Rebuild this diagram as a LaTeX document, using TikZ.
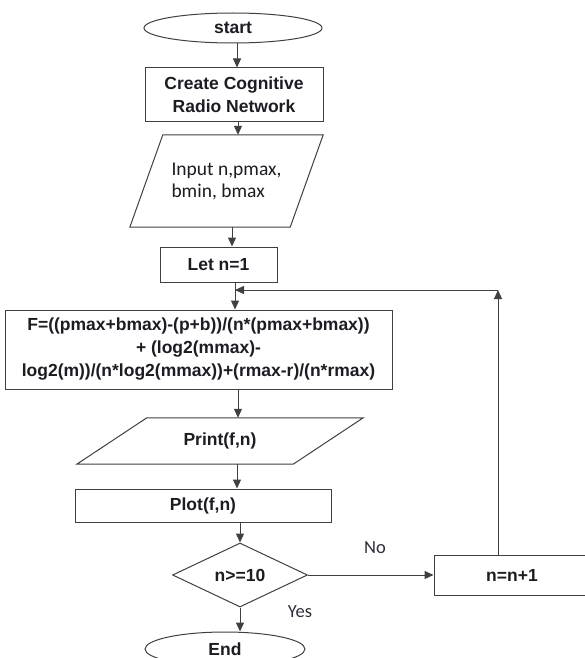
\documentclass[tikz,border=0pt]{standalone}
\usepackage{fontspec}
\setmainfont{Liberation Sans}
\newfontfamily\labelfont{Carlito}
\usetikzlibrary{shapes.geometric,arrows.meta}
\definecolor{linegray}{HTML}{404040}
\definecolor{txt}{HTML}{1C1C24}
\definecolor{lbl}{HTML}{2E2E3A}
\newcommand\boldtxt{\fontsize{17.5}{23}\selectfont\bfseries}
\newcommand\inputtxt{\labelfont\fontsize{19.5}{22}\selectfont}
\begin{document}
\begin{tikzpicture}[x=1pt,y=-1pt,
  line/.style={draw=linegray, line width=1pt},
  arr/.style={line, -{Triangle[length=9pt,width=8pt]}},
  base/.style={inner sep=0pt, text=txt, font=\boldtxt, align=center},
  box/.style={base, line, rectangle},
  term/.style={base, line, ellipse},
  decision/.style={base, line, diamond},
  iobox/.style={base, rectangle},
  edgelabel/.style={inner sep=0pt, text=lbl, font=\labelfont\fontsize{18.5}{20}\selectfont}
]
\useasboundingbox (0,0) rectangle (585,658);
\fill[white] (0,0) rectangle (585,658);

% flow nodes
\node[term, minimum width=178, minimum height=30] (start) at (233,28) {start};
\node[box, minimum width=178, minimum height=54] (create) at (234,95) {Create Cognitive\\Radio Network};
\node[iobox, minimum width=193, minimum height=92, font=\inputtxt, align=left] (input) at (226.5,181) {Input n,pmax,\\bmin, bmax};
\node[box, minimum width=117, minimum height=35] (let) at (218.5,264.5) {Let n=1};
\node[box, minimum width=387, minimum height=79] (fit) at (198.5,349.5)
  {F=((pmax+bmax)-(p+b))/(n*(pmax+bmax))\\+ (log2(mmax)-\\log2(m))/(n*log2(mmax))+(rmax-r)/(n*rmax)};
\node[iobox, minimum width=286, minimum height=46] (print) at (220,441) {Print(f,n)};
\node[box, minimum width=256, minimum height=33] (plot) at (203,505.5) {Plot(f,n)};
\node[decision, minimum width=135, minimum height=64] (dec) at (240,575) {n>=10};
\node[box, minimum width=156, minimum height=40] (incr) at (512,575) {n=n+1};
\node[term, minimum width=160, minimum height=34] (end) at (225,649) {End};

% parallelogram outlines of the input/output steps
\draw[line] ([xshift=33pt]input.north west) -- (input.north east)
  -- ([xshift=-33pt]input.south east) -- (input.south west) -- cycle;
\draw[line] ([xshift=70pt]print.north west) -- (print.north east)
  -- ([xshift=-70pt]print.south east) -- (print.south west) -- cycle;

% columns of the vertical connectors
\coordinate (xa) at (237,0);
\coordinate (xb) at (238,0);
\coordinate (xc) at (232,0);
\coordinate (xd) at (235,0);
\coordinate (xe) at (240,0);
\coordinate (corner) at (498,290);

\draw[arr] (start.south -| xa) -- (create.north -| xa);
\draw[arr] (create.south -| xb) -- (input.north -| xb);
\draw[arr] (input.south -| xc) -- (let.north -| xc);
\draw[arr] (let.south -| xd) -- (fit.north -| xd);
\draw[arr] (fit.south -| xb) -- (print.north -| xb);
\draw[arr] (print.south -| xa) -- (plot.north -| xa);
\draw[arr] (plot.south -| xe) -- (dec.north);
\draw[arr] (dec.south) -- (dec.south |- end.north);
\draw[arr] (dec.east) -- (incr.west);

% loop back to the evaluation step
\draw[arr] (incr.north -| corner) -- (corner);
\draw[arr] (corner) -- (corner -| xd);

% branch labels
\node[edgelabel] (no) at (375,548) {No};
\node[edgelabel] (yes) at (300,612) {Yes};
\end{tikzpicture}
\end{document}
